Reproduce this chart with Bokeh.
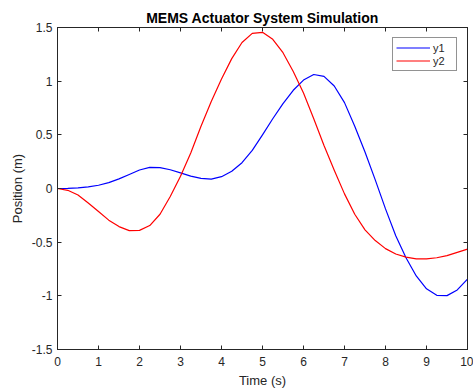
from bokeh.plotting import figure
from bokeh.models import LinearAxis, FixedTicker, Range1d, Legend, LegendItem
from bokeh.embed import file_html
from bokeh.resources import INLINE

t = [0.0, 0.25, 0.5, 0.75, 1.0, 1.25, 1.5, 1.75, 2.0, 2.25, 2.5, 2.75, 3.0, 3.25,
     3.5, 3.75, 4.0, 4.25, 4.5, 4.75, 5.0, 5.25, 5.5, 5.75, 6.0, 6.25, 6.5, 6.75,
     7.0, 7.25, 7.5, 7.75, 8.0, 8.25, 8.5, 8.75, 9.0, 9.25, 9.5, 9.75, 10.0]
y1 = [0.000, 0.001, 0.005, 0.015, 0.030, 0.055, 0.090, 0.130, 0.172, 0.197,
      0.195, 0.175, 0.145, 0.115, 0.095, 0.088, 0.110, 0.160, 0.240, 0.355,
      0.500, 0.650, 0.790, 0.915, 1.010, 1.062, 1.045, 0.955, 0.800, 0.580,
      0.340, 0.080, -0.190, -0.440, -0.645, -0.815, -0.935, -0.995, -0.998,
      -0.945, -0.845]
y2 = [0.000, -0.017, -0.060, -0.135, -0.215, -0.295, -0.355, -0.392, -0.390,
      -0.345, -0.240, -0.075, 0.115, 0.330, 0.580, 0.810, 1.020, 1.210, 1.360,
      1.445, 1.455, 1.390, 1.265, 1.090, 0.890, 0.650, 0.400, 0.170, -0.050,
      -0.240, -0.385, -0.485, -0.560, -0.610, -0.640, -0.655, -0.655, -0.645,
      -0.625, -0.595, -0.565]

x_ticks = [0, 1, 2, 3, 4, 5, 6, 7, 8, 9, 10]
y_ticks = [-1.5, -1.0, -0.5, 0.0, 0.5, 1.0, 1.5]
y_tick_labels = ["-1.5", "-1", "-0.5", "0", "0.5", "1", "1.5"]
series_names = ["y1", "y2"]
series_colors = ["#0000FF", "#FF0000"]

FONT = "Liberation Sans"
AX = "#262626"

p = figure(width=473, height=390, output_backend="svg", toolbar_location=None,
           x_range=Range1d(0, 10), y_range=Range1d(-1.5, 1.5),
           min_border_left=57, min_border_right=6, min_border_top=27,
           min_border_bottom=39, x_axis_location=None, y_axis_location=None)
p.title.text = "MEMS Actuator System Simulation"
p.title.text_font = FONT
p.title.text_font_size = "14px"
p.title.text_font_style = "bold"
p.title.text_color = "#000000"
p.title.align = "center"
p.title.vertical_align = "top"
p.title.offset = 0
p.title.standoff = 0
p.xgrid.visible = False
p.ygrid.visible = False
p.outline_line_color = AX
p.outline_line_width = 1
p.outline_line_alpha = 1.0
p.background_fill_color = "white"
p.border_fill_color = "white"

def style_axis(ax):
    ax.axis_line_color = AX
    ax.axis_line_width = 1
    ax.major_tick_line_color = AX
    ax.major_tick_in = 4
    ax.major_tick_out = 0
    ax.minor_tick_line_color = None
    ax.major_label_text_color = AX
    ax.major_label_text_font = FONT
    ax.axis_label_text_font = FONT
    ax.axis_label_text_color = AX
    ax.axis_label_text_font_style = "normal"
    ax.major_label_text_font_size = "12px"
    ax.axis_label_text_font_size = "13px"

xb = LinearAxis(ticker=FixedTicker(ticks=x_ticks), axis_label="Time (s)")
style_axis(xb)
xb.major_label_standoff = 7
xb.axis_label_standoff = 4
p.add_layout(xb, "below")

yl = LinearAxis(ticker=FixedTicker(ticks=y_ticks), axis_label="Position (m)")
style_axis(yl)
yl.major_label_overrides = {v: s for v, s in zip(y_ticks, y_tick_labels)}
yl.major_label_standoff = 5
yl.axis_label_standoff = 4
p.add_layout(yl, "left")

# box ticks on top and right (no labels)
xt = LinearAxis(ticker=FixedTicker(ticks=x_ticks))
style_axis(xt)
xt.major_label_overrides = {v: "" for v in x_ticks}
xt.major_label_standoff = 0
p.add_layout(xt, "above")

yr = LinearAxis(ticker=FixedTicker(ticks=y_ticks))
style_axis(yr)
yr.major_label_overrides = {v: "" for v in y_ticks}
yr.major_label_standoff = 0
p.add_layout(yr, "right")

r1 = p.line(t, y1, line_color=series_colors[0], line_width=1.2, line_join="round")
r2 = p.line(t, y2, line_color=series_colors[1], line_width=1.2, line_join="round")

legend = Legend(items=[LegendItem(label=series_names[0], renderers=[r1]),
                       LegendItem(label=series_names[1], renderers=[r2])],
                location="top_right")
legend.margin = 10
legend.padding = 3
legend.spacing = 0
legend.glyph_width = 34
legend.glyph_height = 13
legend.label_height = 13
legend.label_standoff = 3
legend.label_text_font = FONT
legend.label_text_font_size = "11px"
legend.label_text_color = AX
legend.border_line_color = AX
legend.border_line_width = 1
legend.background_fill_color = "white"
legend.background_fill_alpha = 1.0
p.add_layout(legend, "center")

open("out.html", "w").write(file_html(p, INLINE))
